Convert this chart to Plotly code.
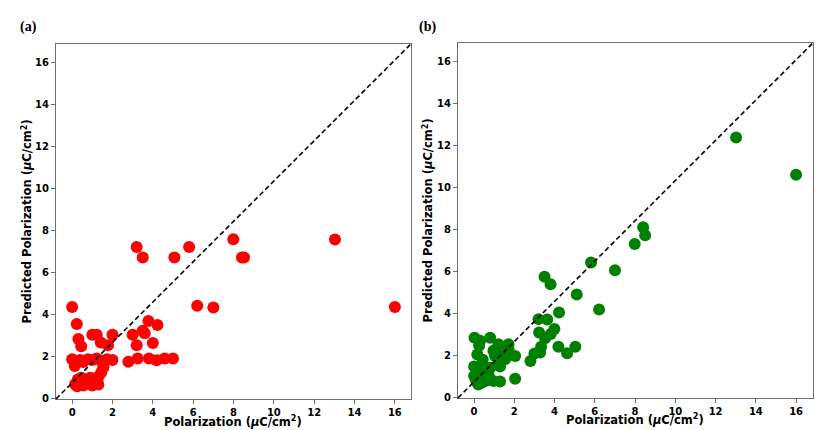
import plotly.graph_objects as go

# panel (a): measured vs predicted polarization, first model
a_meas = [0.0, 0.23, 0.31, 0.45, 1.0, 1.22, 1.42, 1.78, 2.0,
          0.0, 0.13, 0.23, 0.4, 0.55, 0.78, 1.0, 1.22, 1.45, 1.72, 2.0,
          1.55, 1.44, 1.3, 1.2, 0.56, 0.28, 0.31, 0.56, 0.8, 1.0, 1.3, 0.15, 0.45, 0.9, 0.7, 0.25,
          2.79, 3.25, 3.81, 4.19, 4.59, 5.0,
          3.0, 3.2, 3.5, 3.6, 3.78, 4.0, 4.23,
          3.2, 3.5, 5.07, 5.8, 7.99, 8.42, 8.52, 6.2, 7.0, 13.03, 16.0]
a_pred = [4.36, 3.56, 2.85, 2.5, 3.05, 3.05, 2.68, 2.55, 3.05,
          1.88, 1.56, 1.72, 1.85, 1.75, 1.88, 1.85, 1.92, 1.8, 1.88, 1.85,
          1.5, 1.25, 1.05, 0.85, 0.92, 0.92, 0.64, 0.64, 0.8, 0.64, 0.69, 0.7, 1.0, 1.0, 0.75, 0.6,
          1.76, 1.92, 1.92, 1.84, 1.92, 1.92,
          3.05, 2.55, 3.24, 3.12, 3.7, 2.65, 3.51,
          7.22, 6.72, 6.72, 7.22, 7.58, 6.72, 6.72, 4.42, 4.34, 7.57, 4.36]

# panel (b): second model
b_meas = [13.02, 16.0, 8.4, 8.5, 7.98, 7.0, 5.81, 6.21, 5.1, 3.5, 3.8,
          4.22, 3.2, 3.63, 3.99, 3.23, 3.53, 3.81, 3.33, 4.19, 4.62, 5.03, 3.0, 3.28, 2.8,
          2.04, 2.04, 1.71, 1.21, 0.8, 0.02, 0.3, 0.25, 0.16, 0.96, 1.13, 1.04, 1.38, 1.46, 1.62,
          1.71, 1.29, 1.24, 1.54, 1.29,
          0.0, 0.43, 0.3, 0.0, 0.21, 0.38, 0.55, 0.21, 0.96, 1.29, 0.71, 0.8, 0.5, 0.1]
b_pred = [12.4, 10.62, 8.12, 7.74, 7.33, 6.08, 6.45, 4.21, 4.92, 5.77, 5.41,
          4.07, 3.75, 3.73, 3.28, 3.11, 2.84, 3.04, 2.44, 2.44, 2.13, 2.44, 2.11, 2.16, 1.76,
          0.91, 2.0, 2.56, 2.55, 2.86, 2.86, 2.72, 2.48, 2.07, 2.24, 2.16, 2.0, 2.0, 2.16, 2.16,
          2.32, 1.49, 1.62, 1.84, 1.68,
          1.5, 1.82, 1.36, 1.04, 0.88, 0.72, 0.8, 0.64, 0.8, 0.78, 1.12, 1.44, 1.0, 0.8]

ticks = [0, 2, 4, 6, 8, 10, 12, 14, 16]

W, H = 830, 430


# screen pixel -> paper fraction (page margin and a slight vertical squeeze in the snapshot)
def px(x):
    return (x - 8) / W


def py(y):
    return 1 - ((y - 8.4) / 0.98) / H


fig = go.Figure()
fig.add_trace(go.Scatter(x=a_meas, y=a_pred, mode='markers', marker=dict(color='#ff0000', size=12),
                         showlegend=False, xaxis='x', yaxis='y'))
fig.add_trace(go.Scatter(x=b_meas, y=b_pred, mode='markers', marker=dict(color='#008000', size=12),
                         showlegend=False, xaxis='x2', yaxis='y2'))

axis_style = dict(showline=True, mirror=True, linecolor='#707070', linewidth=1,
                  ticks='outside', ticklen=4, tickcolor='#707070', tickwidth=1,
                  showgrid=False, zeroline=False, tickvals=ticks,
                  tickfont=dict(family='DejaVu Sans', size=10, color='black', weight='bold'))

fig.update_layout(
    width=W, height=H, margin=dict(l=0, r=0, t=0, b=0),
    paper_bgcolor='white', plot_bgcolor='white',
    xaxis=dict(domain=[px(56), px(411)], range=[-0.8, 16.8], anchor='y', **axis_style),
    yaxis=dict(domain=[py(396), py(44)], range=[0, 16.86], anchor='x', **axis_style),
    xaxis2=dict(domain=[px(458), px(813)], range=[-0.8, 16.84], anchor='y2', **axis_style),
    yaxis2=dict(domain=[py(395), py(43)], range=[0, 16.9], anchor='x2', **axis_style),
)

# diagonal reference lines, corner to corner
for xr, yr in [('x domain', 'y domain'), ('x2 domain', 'y2 domain')]:
    fig.add_shape(type='line', xref=xr, yref=yr, x0=0, y0=0, x1=1, y1=1,
                  line=dict(color='black', width=1.6, dash='5px,3px'))

xlab = 'Polarization (<i>μ</i>C/cm<sup>2</sup>)'
ylab = 'Predicted Polarization (<i>μ</i>C/cm<sup>2</sup>)'
lab_font = dict(family='DejaVu Sans', size=11.5, color='black', weight='bold')
panel_font = dict(family='Liberation Serif', size=14, color='black', weight='bold')

for xc, yc, text, ang in [(233, 418, xlab, 0), (635, 416, xlab, 0), (27, 220, ylab, -90), (428, 219, ylab, -90)]:
    fig.add_annotation(x=px(xc), y=py(yc), xref='paper', yref='paper', text=text, textangle=ang,
                       showarrow=False, font=lab_font, xanchor='center', yanchor='middle')

fig.add_annotation(x=px(28), y=py(27), xref='paper', yref='paper', text='(a)', showarrow=False,
                   font=panel_font, xanchor='center', yanchor='middle')
fig.add_annotation(x=px(427), y=py(27), xref='paper', yref='paper', text='(b)', showarrow=False,
                   font=panel_font, xanchor='center', yanchor='middle')

fig.write_html("out.html")
